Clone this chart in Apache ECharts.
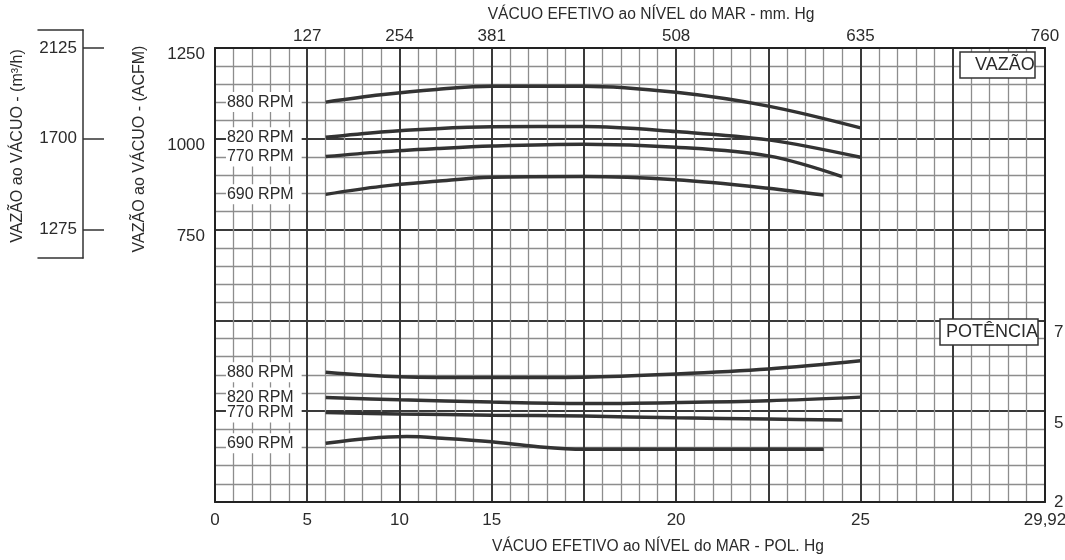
<!DOCTYPE html>
<html><head><meta charset="utf-8">
<script src="https://cdn.jsdelivr.net/npm/echarts@6/dist/echarts.min.js"></script>
<style>html,body{margin:0;padding:0;background:#fff}#c{width:1065px;height:560px}</style>
</head><body><div id="c"></div>
<script>
// ================= DATA =================
const rpmLabels = ['880 RPM', '820 RPM', '770 RPM', '690 RPM'];
// Flow (ACFM) vs vacuum (inHg)
const flow880 = [[6,1101],[9,1121],[12,1136],[15,1145],[17.5,1145],[20,1128],[22.5,1090],[25,1030]];
const flow820 = [[6,1004],[9,1019],[12,1028],[15,1033],[17.5,1034],[20,1020],[22.5,997],[25,949]];
const flow770 = [[6,951],[9,964],[12,973],[15,980],[17.5,985],[20,977],[22.5,953],[24.5,896]];
const flow690 = [[6,847],[9,869],[12,883],[15,894],[17.5,896],[20,887],[22.5,864],[24,845]];
// Power vs vacuum (inHg)
const power880 = [[6,5.86],[10,5.76],[15,5.74],[17.5,5.75],[20,5.82],[22.5,5.93],[25,6.11]];
const power820 = [[6,5.30],[10,5.25],[15,5.20],[17.5,5.17],[20,5.19],[22.5,5.23],[25,5.31]];
const power770 = [[6,4.96],[10,4.91],[15,4.87],[17.5,4.84],[20,4.78],[22.5,4.74],[24.5,4.71]];
const power690 = [[6,3.94],[8.3,4.10],[10.4,4.16],[12.5,4.10],[15,3.99],[16.2,3.83],[17.5,3.74],[20,3.74],[24,3.74]];
// Tick labels
const bottomTicksInHg = [0, 5, 10, 15, 20, 25, 29.92];
const topTicksMmHg = [127, 254, 381, 508, 635, 760];
const acfmTicks = [1250, 1000, 750];
const m3hTicks = [2125, 1700, 1275];
const powerTicks = [7, 5, 2];

// ================= SCALES =================
// The vacuum scale of the original sheet is piecewise linear (grid cells).
const X_ANCHORS = [[0, 0], [15, 15], [25, 35], [29.92, 45]];   // [inHg, cell]
// The power scale of the original sheet is piecewise linear (grid rows from top).
const P_ANCHORS = [[2, 25], [5, 20], [7, 15]];                 // [power, row]
function interp(anchors, v, a, b) {
  const s = anchors.slice().sort((p, q) => p[a] - q[a]);
  let i = 0;
  while (i < s.length - 2 && v > s[i + 1][a]) i++;
  const p = s[i], q = s[i + 1];
  return p[b] + (v - p[a]) * (q[b] - p[b]) / (q[a] - p[a]);
}
const toCell = v => interp(X_ANCHORS, v, 0, 1);
const fromCell = c => interp(X_ANCHORS, c, 1, 0);
const powerToRow = p => interp(P_ANCHORS, p, 0, 1);
const rowToPower = r => interp(P_ANCHORS, r, 1, 0);

const MM_PER_INHG = 25.4;
const M3H_PER_ACFM = 1.7;
const ACFM_MAX = 1250;

// ================= LAYOUT =================
const FONT = "'Liberation Sans', Arial, sans-serif";
const TXT = '#2b2b2b';
const PLOT = { left: 215, top: 48, right: 20, bottom: 58 };
const H = 560;
const plotTopY = PLOT.top, plotBottomY = H - PLOT.bottom;
const BR = { left: 38, top: 30, right: 1065 - 83, bottomY: 258 };
// m3/h bracket axis range (linked to ACFM axis of the plot)
const m3hAt = y => M3H_PER_ACFM * ACFM_MAX * (plotBottomY - y) / (plotBottomY - plotTopY);

const thin = { color: '#8d8d8d', width: 1.3 };
const bold = { color: '#3a3a3a', width: 2 };
const curveStyle = { color: '#333', width: 3.5 };

function labelled(points, mapY, text) {
  return points.map((p, i) => {
    const v = [toCell(p[0]), mapY(p[1])];
    if (i !== 0) return v;
    return {
      value: v,
      label: {
        show: true, position: 'left', distance: 24, formatter: text,
        fontFamily: FONT, fontSize: 16, color: TXT,
        backgroundColor: '#fff', padding: [2, 8, 2, 1]
      }
    };
  });
}
const flowSeries = [flow880, flow820, flow770, flow690];
const powerSeries = [power880, power820, power770, power690];
const series = [];
flowSeries.forEach((s, k) => series.push({
  type: 'line', xAxisIndex: 0, yAxisIndex: 0, smooth: 0.35,
  symbol: 'circle', symbolSize: 0, showSymbol: true,
  lineStyle: curveStyle, itemStyle: { color: '#333' },
  data: labelled(s, v => v, rpmLabels[k]), z: 3
}));
powerSeries.forEach((s, k) => series.push({
  type: 'line', xAxisIndex: 0, yAxisIndex: 1, smooth: 0.35,
  symbol: 'circle', symbolSize: 0, showSymbol: true,
  lineStyle: curveStyle, itemStyle: { color: '#333' },
  data: labelled(s, powerToRow, rpmLabels[k]), z: 3
}));

const fmtNum = v => String(v).replace('.', ',');
const tickStyle = { fontFamily: FONT, fontSize: 17, color: TXT };

const option = {
  animation: false,
  backgroundColor: '#fff',
  textStyle: { fontFamily: FONT },
  title: [
    { text: 'VAZÃO', left: 960, top: 52, padding: [4, 1, 4, 15], borderColor: '#333', borderWidth: 1.5,
      backgroundColor: '#fff', textStyle: { fontFamily: FONT, fontSize: 18, fontWeight: 'normal', color: TXT }, z: 10 },
    { text: 'POTÊNCIA', left: 940, top: 319, padding: [4, 0, 4, 6], borderColor: '#333', borderWidth: 1.5,
      backgroundColor: '#fff', textStyle: { fontFamily: FONT, fontSize: 18, fontWeight: 'normal', color: TXT }, z: 10 }
  ],
  grid: [
    { left: PLOT.left, top: PLOT.top, right: PLOT.right, bottom: PLOT.bottom, outerBoundsMode: 'none', containLabel: false },
    { left: BR.left, top: BR.top, right: BR.right, bottom: H - BR.bottomY, outerBoundsMode: 'none', containLabel: false }
  ],
  xAxis: [
    { gridIndex: 0, type: 'value', position: 'bottom', min: 0, max: 45, interval: 5,
      axisLine: { show: true, onZero: false, lineStyle: { color: '#222', width: 2 } },
      axisTick: { show: false },
      splitLine: { show: true, lineStyle: bold },
      minorTick: { show: false, splitNumber: 5 },
      minorSplitLine: { show: true, lineStyle: thin },
      axisLabel: Object.assign({ margin: 10, formatter: c => {
        const v = fromCell(c);
        const t = bottomTicksInHg.find(x => Math.abs(x - v) < 0.02);
        return t === undefined ? '' : fmtNum(t);
      } }, tickStyle),
      name: 'VÁCUO EFETIVO ao NÍVEL do MAR - POL. Hg', nameLocation: 'middle', nameGap: 37,
      nameTextStyle: { fontFamily: FONT, fontSize: 15.6, color: TXT, padding: [0, 0, 0, 56] }
    },
    { gridIndex: 0, type: 'value', position: 'top', min: 0, max: 45, interval: 5,
      axisLine: { show: true, onZero: false, lineStyle: { color: '#222', width: 2 } },
      axisTick: { show: false }, splitLine: { show: false },
      axisLabel: Object.assign({ margin: 3, formatter: c => {
        const v = fromCell(c);
        const t = topTicksMmHg.find(mm => Math.abs(mm / MM_PER_INHG - v) < 0.05);
        return t === undefined ? '' : String(t);
      } }, tickStyle),
      name: 'VÁCUO EFETIVO ao NÍVEL do MAR - mm. Hg', nameLocation: 'middle', nameGap: 25,
      nameTextStyle: { fontFamily: FONT, fontSize: 15.6, color: TXT, padding: [0, 0, 0, 42] }
    },
    { gridIndex: 1, type: 'value', position: 'top', min: 0, max: 1,
      axisLine: { show: true, onZero: false, lineStyle: { color: '#333', width: 1.5 } },
      axisTick: { show: false }, axisLabel: { show: false }, splitLine: { show: false } },
    { gridIndex: 1, type: 'value', position: 'bottom', min: 0, max: 1,
      axisLine: { show: true, onZero: false, lineStyle: { color: '#333', width: 1.5 } },
      axisTick: { show: false }, axisLabel: { show: false }, splitLine: { show: false } }
  ],
  yAxis: [
    { gridIndex: 0, type: 'value', position: 'left', min: 0, max: ACFM_MAX, interval: 250,
      axisLine: { show: true, onZero: false, lineStyle: { color: '#222', width: 2 } },
      axisTick: { show: false },
      splitLine: { show: true, lineStyle: bold },
      minorTick: { show: false, splitNumber: 5 },
      minorSplitLine: { show: true, lineStyle: thin },
      axisLabel: Object.assign({ margin: 10,
        formatter: v => acfmTicks.includes(v) ? '{a|' + v + '}' : '',
        rich: { a: Object.assign({ padding: [13, 0, 0, 0] }, tickStyle) } }, tickStyle)
    },
    { gridIndex: 0, type: 'value', position: 'right', min: 0, max: 25, interval: 5, inverse: true,
      axisLine: { show: true, onZero: false, lineStyle: { color: '#222', width: 2 } },
      axisTick: { show: false }, splitLine: { show: false },
      axisLabel: Object.assign({ margin: 9,
        formatter: r => {
          const p = rowToPower(r);
          const t = powerTicks.find(x => Math.abs(x - p) < 1e-6);
          if (t === undefined) return '';
          return t === powerTicks[powerTicks.length - 1] ? '{b|' + t + '}' : '{a|' + t + '}';
        },
        rich: { a: Object.assign({ padding: [24, 0, 0, 0] }, tickStyle), b: Object.assign({}, tickStyle) } }, tickStyle)
    },
    { gridIndex: 1, type: 'value', position: 'right', min: m3hAt(BR.bottomY), max: m3hAt(BR.top),
      axisLine: { show: true, onZero: false, lineStyle: { color: '#333', width: 1.5 } },
      axisTick: { show: true, inside: false, length: 21, customValues: m3hTicks, lineStyle: { color: '#333', width: 1.5 } },
      splitLine: { show: false },
      axisLabel: Object.assign({ inside: true, margin: 6, customValues: m3hTicks, formatter: v => String(v) }, tickStyle)
    }
  ],
  graphic: [
    { type: 'text', x: 140, y: 149, rotation: Math.PI / 2,
      style: { text: 'VAZÃO ao VÁCUO - (ACFM)', x: 0, y: 0, align: 'center', verticalAlign: 'middle',
        font: '16px ' + FONT, fill: TXT } },
    { type: 'text', x: 18, y: 146, rotation: Math.PI / 2,
      style: { text: 'VAZÃO ao VÁCUO - (m³/h)', x: 0, y: 0, align: 'center', verticalAlign: 'middle',
        font: '16px ' + FONT, fill: TXT } }
  ],
  series: series
};
const chart = echarts.init(document.getElementById('c'), null, { renderer: 'canvas' });
chart.setOption(option);
</script>
</body></html>
